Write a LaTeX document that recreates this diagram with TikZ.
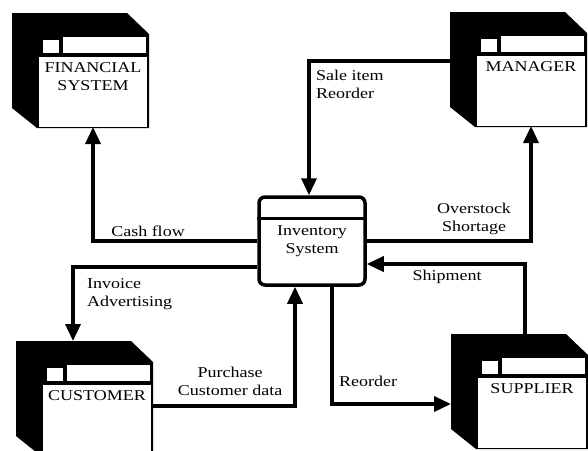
\documentclass[tikz,border=0pt]{standalone}
\usepackage{fontspec}
\setmainfont{Liberation Serif}[FakeStretch=1.2]
\usepackage{tikz}
\usetikzlibrary{positioning,calc,arrows.meta}

\begin{document}
\begin{tikzpicture}[
    x=1pt,y=-1pt,
    font=\fontsize{15}{18}\selectfont,
    flow/.style={line width=3.5pt,-{Triangle[length=17pt,width=15pt]}},
    face/.style={fill=white,minimum width=108pt,minimum height=70pt,inner sep=0pt,outer sep=0pt},
    lbl/.style={inner sep=0pt},
    invbox/.style={draw,line width=3.5pt,rounded corners=6pt,minimum width=106pt,
                   minimum height=88pt,align=center},
    pics/terminal/.style={code={
        \fill (-81,-79) -- (34,-79) -- (56,-58) -- (56,36) -- (-56,36) -- (-81,16) -- cycle;
        \fill[white] (-50,-52) rectangle (-34,-39);
        \fill[white] (-30,-55) rectangle (53,-39);
        \node[face] (-face) at (0,0) {};
        \node[lbl,anchor=north,align=center] (-label) at (0,-30) {#1};
        \coordinate (-top) at (0,-79);
        \coordinate (-west) at (-81,0);
    }}
]
    \clip (0,0) rectangle (588,450);

    % the four outside entities
    \pic (fin) at (93,92) {terminal={FINANCIAL\\SYSTEM}};
    \pic (man) at (531,91) {terminal={MANAGER}};
    \pic (cust) at (97,420) {terminal={CUSTOMER}};
    \pic (sup) at (532,413) {terminal={SUPPLIER}};

    % the process
    \node[invbox] (inv) at (312,241) {Inventory\\System};
    \draw[line width=3.5pt] ([yshift=-23]inv.north west) -- ([yshift=-23]inv.north east);

    % data flows
    \draw[flow] (inv.west) -| (fin-face.south);
    \draw[flow] ([yshift=-26]inv.west) -| ([xshift=-24]cust-top);
    \draw[flow] ([yshift=14]cust-face.east) -| ([xshift=-17]inv.south);
    \draw[flow] ([xshift=20]inv.south) |- ([yshift=9]sup-west);
    \draw[flow] ([xshift=-7]sup-top) |- ([yshift=-23]inv.east);
    \draw[flow] (inv.east) -| (man-face.south);
    \draw[flow] ([yshift=30]man-west) -| ([xshift=-3]inv.north);

    % flow labels
    \node[lbl,anchor=north west,align=left] (salelbl) at (316,70) {Sale item\\Reorder};
    \node[lbl,anchor=north,align=center] (overlbl) at (474,203) {Overstock\\Shortage};
    \node[lbl,anchor=north] (shiplbl) at (447,270) {Shipment};
    \node[lbl,anchor=north,align=center] (purchlbl) at (230,367) {Purchase\\Customer data};
    \node[lbl,anchor=north] (reordlbl) at (368,376) {Reorder};
    \node[lbl,anchor=north] (cashlbl) at (148,226) {Cash flow};
    \node[lbl,anchor=north west,align=left] (invlbl) at (87,278) {Invoice\\Advertising};
\end{tikzpicture}
\end{document}
